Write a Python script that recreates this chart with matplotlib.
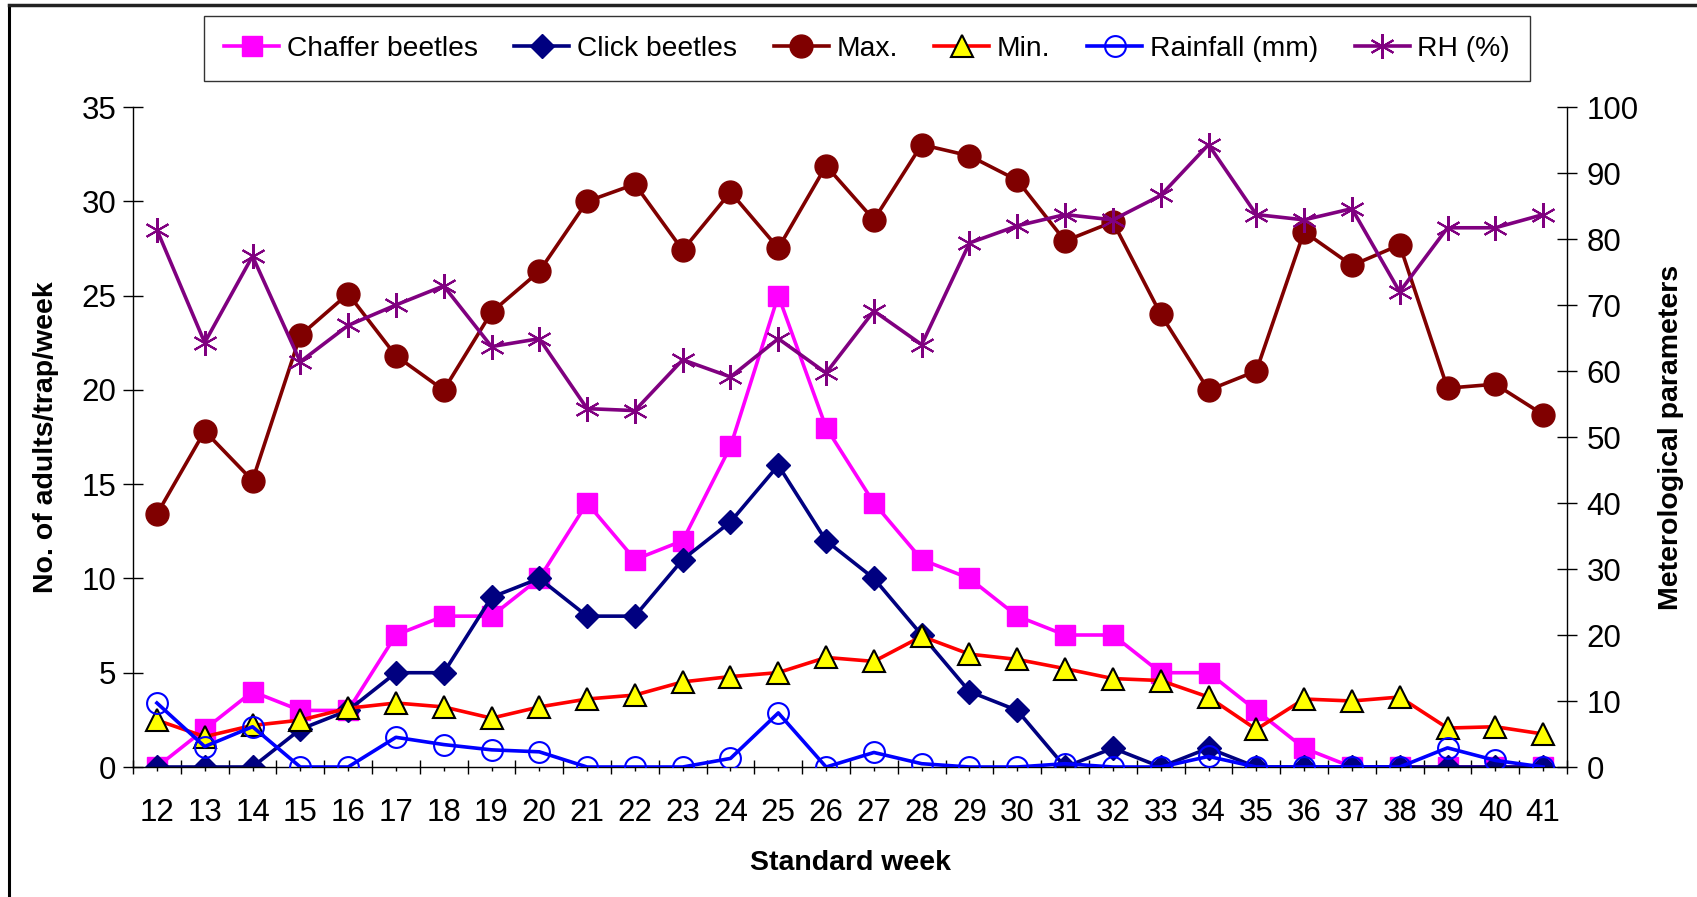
import matplotlib
matplotlib.use("Agg")
import matplotlib.pyplot as plt
from matplotlib.lines import Line2D
from matplotlib.ticker import FixedLocator

plt.rcParams['font.family'] = ['Liberation Sans', 'DejaVu Sans']

weeks = list(range(12, 42))

chaffer = [0, 2, 4, 3, 3, 7, 8, 8, 10, 14, 11, 12, 17, 25, 18, 14, 11, 10, 8, 7,
           7, 5, 5, 3, 1, 0, 0, 0, 0, 0]
click = [0, 0, 0, 2, 3, 5, 5, 9, 10, 8, 8, 11, 13, 16, 12, 10, 7, 4, 3, 0,
         1, 0, 1, 0, 0, 0, 0, 0, 0, 0]
tmax = [38.3, 50.9, 43.4, 65.4, 71.7, 62.3, 57.1, 68.9, 75.1, 85.7, 88.3, 78.3,
        87.1, 78.6, 91.1, 82.9, 94.3, 92.6, 88.9, 79.7, 82.6, 68.6, 57.1, 60.0,
        81.1, 76.0, 79.1, 57.4, 58.0, 53.4]
tmin = [7.1, 4.6, 6.3, 7.1, 8.9, 9.7, 9.1, 7.4, 9.1, 10.3, 10.9, 12.9, 13.7,
        14.3, 16.6, 16.0, 19.8, 17.1, 16.3, 14.9, 13.4, 13.1, 10.6, 5.7, 10.3,
        10.0, 10.6, 5.9, 6.1, 5.0]
rain = [9.7, 3.1, 6.1, 0, 0, 4.5, 3.4, 2.6, 2.3, 0, 0, 0, 1.3, 8.2, 0, 2.2,
        0.5, 0, 0, 0.5, 0, 0, 1.6, 0, 0, 0, 0, 2.9, 1.0, 0]
rh = [81.4, 64.3, 77.4, 61.4, 66.9, 70.0, 72.9, 63.7, 64.9, 54.3, 54.0, 61.7,
      59.1, 64.9, 59.7, 69.1, 64.0, 79.4, 82.0, 83.7, 82.9, 86.6, 94.3, 83.7,
      82.9, 84.6, 72.0, 81.7, 81.7, 83.7]

W, H = 1697, 897
fig = plt.figure(figsize=(W / 100, H / 100), dpi=100)
ax = fig.add_axes([133 / W, 1 - 767 / H, (1567 - 133) / W, (767 - 107) / H])
ax2 = ax.twinx()

x = list(range(len(weeks)))
lw = 2.6

h1, = ax.plot(x, chaffer, color='#FF00FF', lw=lw, marker='s', ms=14,
              mfc='#FF00FF', mec='#FF00FF', label='Chaffer beetles')
h2, = ax.plot(x, click, color='#000080', lw=lw, marker='D', ms=12.5,
              mfc='#000080', mec='#000080', label='Click beetles')
h3, = ax2.plot(x, tmax, color='#800000', lw=lw, marker='o', ms=16.5,
               mfc='#800000', mec='#800000', label='Max.')
h4, = ax2.plot(x, tmin, color='#FF0000', lw=lw, marker='^', ms=15.5,
               mfc='#FFFF00', mec='black', mew=1.5, label='Min.')
h5, = ax2.plot(x, rain, color='#0000FF', lw=lw, marker='o', ms=15,
               mfc='none', mec='#0000FF', mew=1.5, label='Rainfall (mm)')
h6, = ax2.plot(x, rh, color='#800080', lw=lw, marker=(6, 2, 0), ms=18,
               mec='#800080', mew=1.5, label='RH (%)')

ax.set_xlim(-0.5, len(weeks) - 0.5)
ax.set_ylim(0, 35)
ax2.set_ylim(0, 100)
ax.set_yticks(range(0, 36, 5))
ax2.set_yticks(range(0, 101, 10))
ax.set_xticks(x)
ax.set_xticklabels([str(w) for w in weeks])
ax.xaxis.set_minor_locator(FixedLocator([i - 0.5 for i in range(len(weeks) + 1)]))

for a in (ax, ax2):
    a.spines['top'].set_visible(False)
    for s in a.spines.values():
        s.set_linewidth(1.0)
ax.spines['right'].set_visible(False)
ax2.spines['left'].set_visible(False)
ax2.spines['bottom'].set_visible(False)

ax.tick_params(axis='y', direction='inout', length=14, width=1, pad=5, labelsize=22.5)
ax2.tick_params(axis='y', direction='inout', length=14, width=1, pad=7, labelsize=22.5)
ax.tick_params(axis='x', which='major', direction='out', length=3, width=1,
               pad=19, labelsize=22.5)
ax.tick_params(axis='x', which='minor', direction='inout', length=10, width=1)

ax.set_xlabel('Standard week', fontsize=20.5, fontweight='bold', labelpad=16)
ax.set_ylabel('No. of adults/trap/week', fontsize=20.5, fontweight='bold', labelpad=16)
ax2.set_ylabel('Meterological parameters', fontsize=20.5, fontweight='bold', labelpad=14)

fig.legend(handles=[h1, h2, h3, h4, h5, h6], loc='center',
           bbox_to_anchor=(867 / W, 1 - 48.5 / H), ncol=6, fontsize=20.3,
           frameon=True, fancybox=False, edgecolor='black', handlelength=1.95,
           handletextpad=0.27, columnspacing=1.3, borderpad=0.7)

# outer chart border
fig.add_artist(Line2D([9 / W, 9 / W], [0, 1 - 5 / H], color='black', lw=2.2,
                      transform=fig.transFigure))
fig.add_artist(Line2D([9 / W, 1], [1 - 5 / H, 1 - 5 / H], color='#222222', lw=2.5,
                      transform=fig.transFigure))

fig.savefig('out.png', dpi=100)
